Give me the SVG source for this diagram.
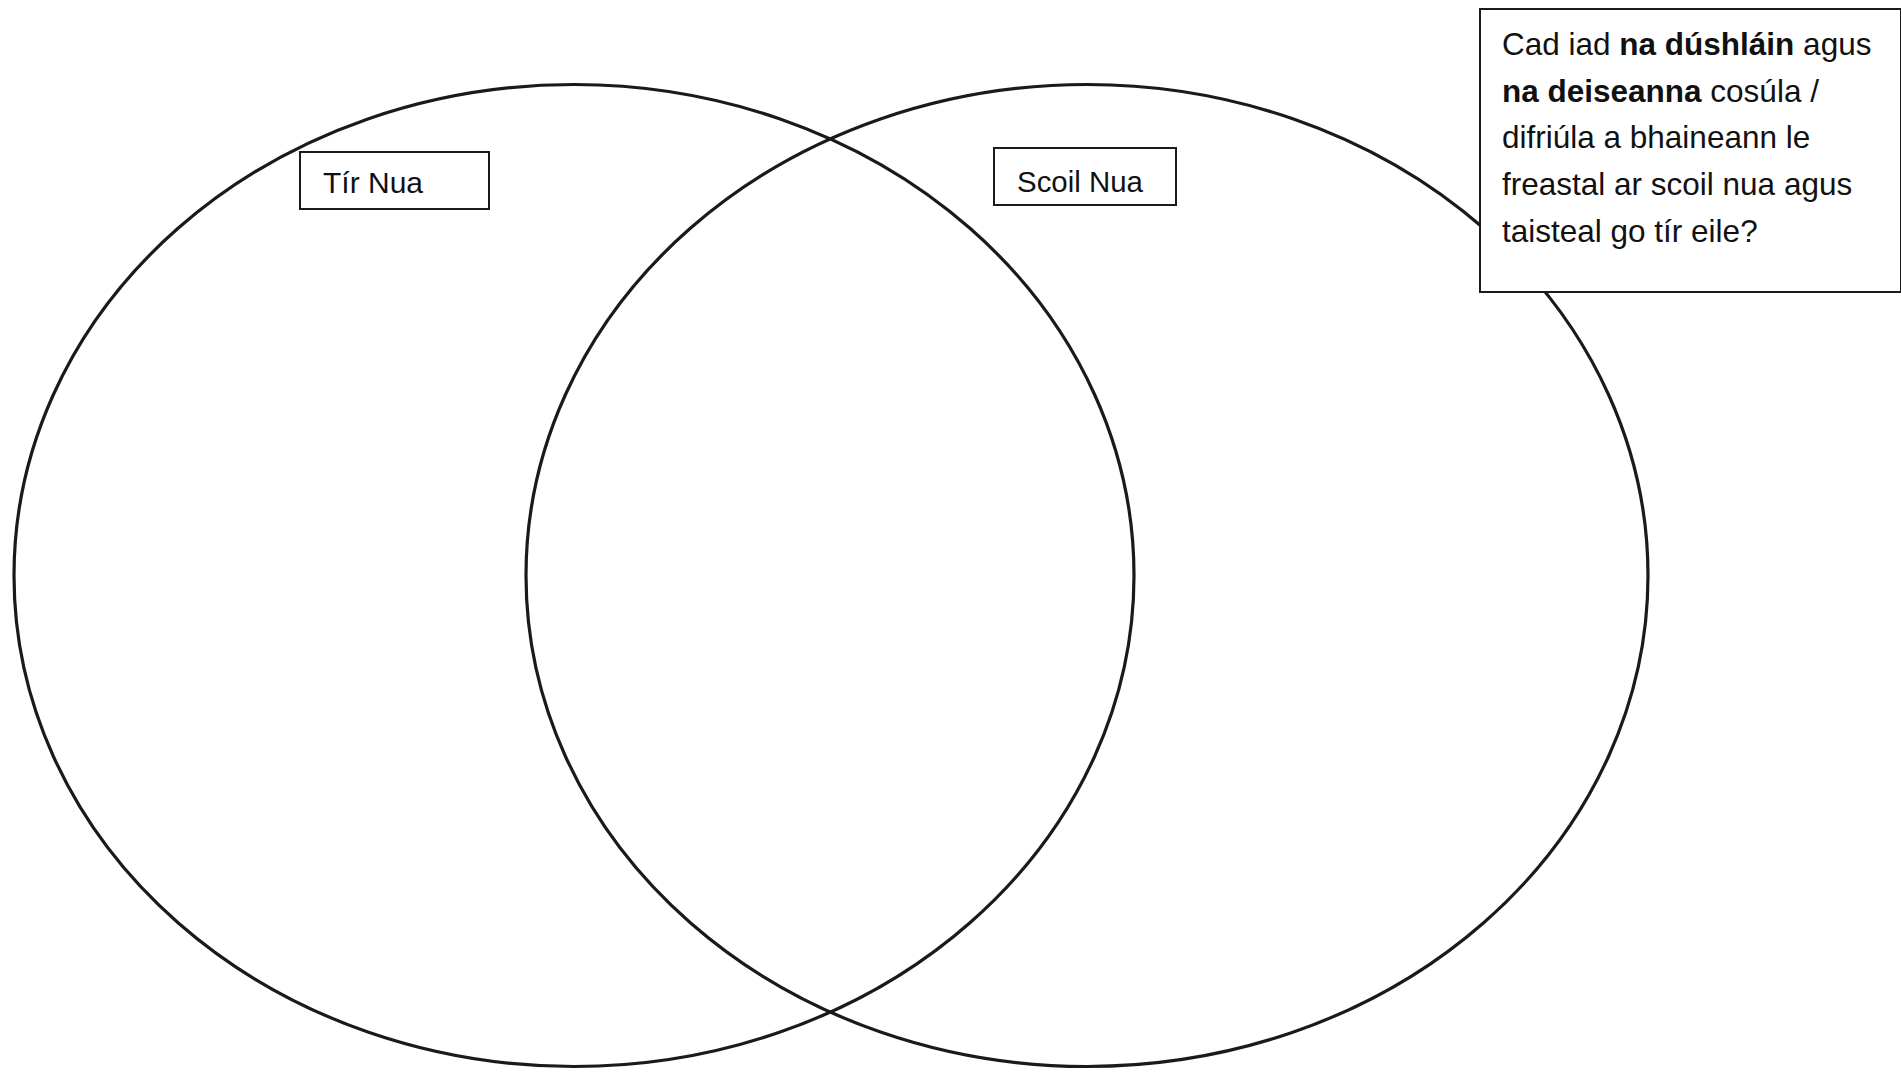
<svg xmlns="http://www.w3.org/2000/svg" width="1901" height="1072" viewBox="0 0 1901 1072">
<style>
.ell{fill:none;stroke:#1a1a1a;stroke-width:3.2}
.box{fill:#fff;stroke:#1a1a1a;stroke-width:2}
.lbl{font-family:"Liberation Sans",Arial,sans-serif;font-size:29px;fill:#111}
.q{font-family:"Liberation Sans",Arial,sans-serif;font-size:31.5px;fill:#111}
.b{font-weight:bold}
</style>
<rect width="1901" height="1072" fill="#fff"/>
<g id="circle-left"><ellipse class="ell" cx="574" cy="575.5" rx="560" ry="491"/></g>
<g id="circle-right"><ellipse class="ell" cx="1087" cy="575.5" rx="561" ry="491"/></g>
<g id="label-tir-nua">
<rect class="box" x="300" y="152" width="189" height="57"/>
<text class="lbl" x="323" y="193" textLength="100" lengthAdjust="spacingAndGlyphs">Tír Nua</text>
</g>
<g id="label-scoil-nua">
<rect class="box" x="994" y="148" width="182" height="57"/>
<text class="lbl" x="1017" y="192" textLength="126" lengthAdjust="spacingAndGlyphs">Scoil Nua</text>
</g>
<g id="question">
<rect class="box" x="1480" y="9" width="421" height="283"/>
<text class="q" x="1502" y="55">Cad iad <tspan class="b">na dúshláin</tspan> agus</text>
<text class="q" x="1502" y="102"><tspan class="b">na deiseanna</tspan> cosúla /</text>
<text class="q" x="1502" y="148">difriúla a bhaineann le</text>
<text class="q" x="1502" y="195">freastal ar scoil nua agus</text>
<text class="q" x="1502" y="242">taisteal go tír eile?</text>
</g>
<g id="connectors"></g>
</svg>
